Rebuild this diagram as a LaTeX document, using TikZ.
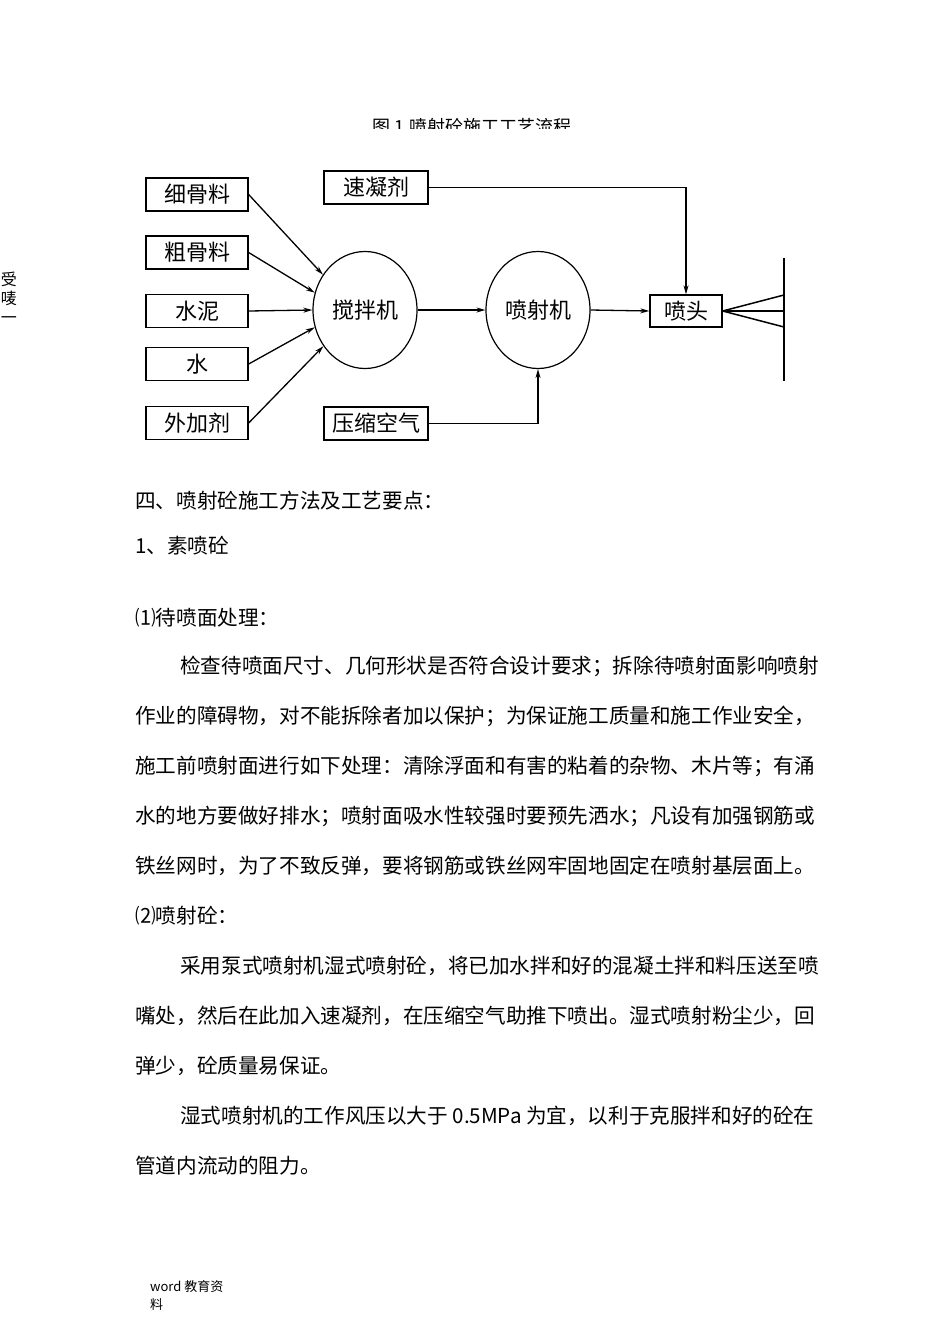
\documentclass[tikz,border=0pt]{standalone}
\usepackage{fontspec}
\setmainfont{Noto Sans CJK SC}
\usetikzlibrary{shapes.geometric,arrows.meta}

\newcommand{\fsz}[1]{\fontsize{#1}{#1}\selectfont}

\begin{document}
\begin{tikzpicture}[x=1pt, y=-1pt,
    box/.style={draw, line width=1.3pt, inner sep=0pt, minimum width=102pt, minimum height=33pt, font=\fsz{22}},
    machine/.style={draw, ellipse, line width=1.2pt, inner sep=0pt, minimum width=104pt, minimum height=117pt, font=\fsz{22}},
    arr/.style={-{Stealth[length=9pt,width=5pt]}, line width=1.3pt},
    bodyline/.style={anchor=base west, inner sep=0pt, font=\fsz{20.6}}]

        \useasboundingbox (0,0) rectangle (950,1344);

        % margin mark
        \node[align=center, font=\fsz{16}, inner sep=0pt] (mark) at (9,298) {受\\[3pt]唛\\[3pt]一};

        % title (cut off at the bottom)
        \begin{scope}
            \clip (300,100) rectangle (650,128);
            \node[anchor=base, inner sep=0pt, font=\fsz{18}] (title) at (472,133) {图 1 喷射砼施工工艺流程};
        \end{scope}

        % materials
        \node[box] (fineagg) at (197,194.5) {细骨料};
        \node[box] (coarseagg) at (197,252.5) {粗骨料};
        \node[box] (cement) at (197,311) {水泥};
        \node[box] (water) at (197,364) {水};
        \node[box] (admix) at (197,423) {外加剂};
        \node[box, minimum width=104pt] (accel) at (376,187.5) {速凝剂};
        \node[box, minimum width=104pt] (air) at (376,423.5) {压缩空气};

        % machines
        \node[machine] (mixer) at (365,310) {搅拌机};
        \node[machine] (sprayer) at (538,310) {喷射机};
        \node[box, minimum width=72pt, minimum height=32pt] (nozzle) at (686,311) {喷头};

        % wall
        \coordinate (walltop) at (784,258);
        \coordinate (wallbot) at (784,381);
        \coordinate (wallA) at (784,295);
        \coordinate (wallB) at (784,311);
        \coordinate (wallC) at (784,327);

        % into the mixer
        \draw[arr] (fineagg.east) -- (mixer.140);
        \draw[arr] (coarseagg.east) -- (mixer.161);
        \draw[arr] (cement.east) -- (mixer.west);
        \draw[arr] (water.east) -- (mixer.199);
        \draw[arr] (admix.east) -- (mixer.221);

        % main line
        \draw[arr] (mixer.east) -- (sprayer.west);
        \draw[arr] (sprayer.east) -- (nozzle.west);
        \draw[arr] (accel.east) -| (nozzle.north);
        \draw[arr] (air.east) -| (sprayer.south);

        % spray onto the wall
        \draw[line width=1.4pt] (walltop) -- (wallbot);
        \draw[line width=1.5pt] (nozzle.east) -- (wallA);
        \draw[line width=1.2pt] (nozzle.east) -- (wallB);
        \draw[line width=1.5pt] (nozzle.east) -- (wallC);

        % text
        \node[bodyline] (head) at (135,508) {四、喷射砼施工方法及工艺要点：};
        \node[bodyline] (sub) at (135,553) {1、素喷砼};
        \node[bodyline] (itemA) at (135,625) {⑴待喷面处理：};
        \node[bodyline] (pA1) at (180,673) {检查待喷面尺寸、几何形状是否符合设计要求；拆除待喷射面影响喷射};
        \node[bodyline] (pA2) at (135,723) {作业的障碍物，对不能拆除者加以保护；为保证施工质量和施工作业安全，};
        \node[bodyline] (pA3) at (135,773) {施工前喷射面进行如下处理：清除浮面和有害的粘着的杂物、木片等；有涌};
        \node[bodyline] (pA4) at (135,823) {水的地方要做好排水；喷射面吸水性较强时要预先洒水；凡设有加强钢筋或};
        \node[bodyline] (pA5) at (135,873) {铁丝网时，为了不致反弹，要将钢筋或铁丝网牢固地固定在喷射基层面上。};
        \node[bodyline] (itemB) at (135,923) {⑵喷射砼：};
        \node[bodyline] (pB1) at (180,973) {采用泵式喷射机湿式喷射砼，将已加水拌和好的混凝土拌和料压送至喷};
        \node[bodyline] (pB2) at (135,1023) {嘴处，然后在此加入速凝剂，在压缩空气助推下喷出。湿式喷射粉尘少，回};
        \node[bodyline] (pB3) at (135,1073) {弹少，砼质量易保证。};
        \node[bodyline] (pC1) at (180,1123) {湿式喷射机的工作风压以大于 0.5MPa 为宜，以利于克服拌和好的砼在};
        \node[bodyline] (pC2) at (135,1173) {管道内流动的阻力。};

        % footer
        \node[anchor=base west, inner sep=0pt, font=\fsz{13}] (footA) at (150,1291) {word 教育资};
        \node[anchor=base west, inner sep=0pt, font=\fsz{13}] (footB) at (150,1309) {料};

    \end{tikzpicture}
\end{document}
